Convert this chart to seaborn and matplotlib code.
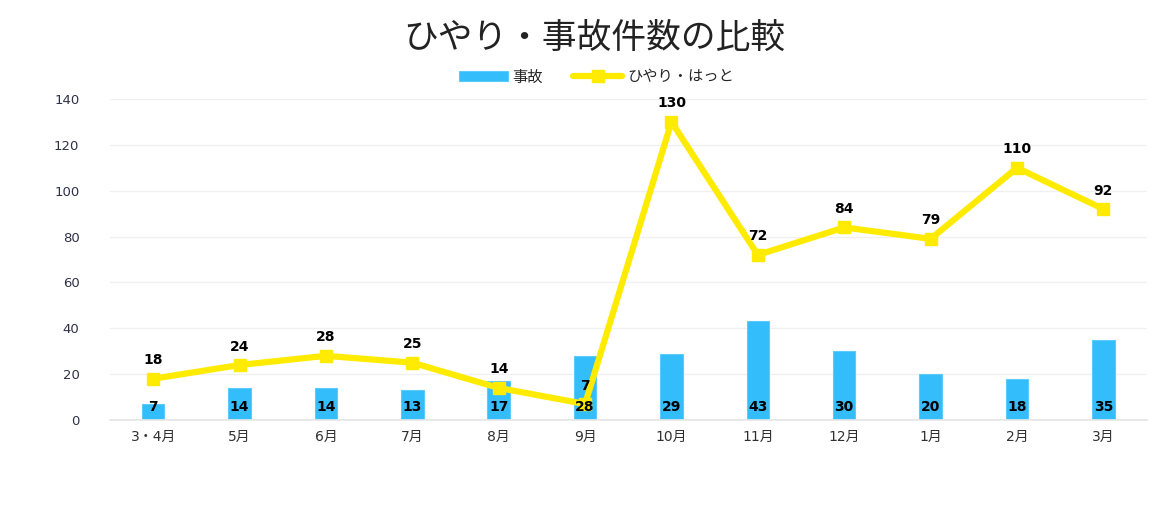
import matplotlib
matplotlib.use("Agg")
import matplotlib.pyplot as plt
import seaborn as sns
import pandas as pd
import numpy as np

months = ["3・4月", "5月", "6月", "7月", "8月", "9月", "10月", "11月", "12月", "1月", "2月", "3月"]
accidents = [7, 14, 14, 13, 17, 28, 29, 43, 30, 20, 18, 35]
hiyari = [18, 24, 28, 25, 14, 7, 130, 72, 84, 79, 110, 92]
yticks = [0, 20, 40, 60, 80, 100, 120, 140]

sns.set_theme(style="white")
plt.rcParams['font.family'] = ['DejaVu Sans', 'Noto Sans CJK JP']

bar_color = "#33BDFA"
line_color = "#FFEB00"

df = pd.DataFrame({"month": months, "accidents": accidents, "hiyari": hiyari})

fig = plt.figure(figsize=(11.76, 5.30), dpi=100)
ax = fig.add_axes([0.0935, 0.2075, 0.8815, 0.6057])

sns.barplot(data=df, x="month", y="accidents", color=bar_color, width=0.26,
            saturation=1, ax=ax, label="事故", edgecolor="#5CCBFF", linewidth=0.8)
xs = np.arange(len(months))
ax.plot(xs, hiyari, color=line_color, linewidth=4.5, marker="s", markersize=9,
        label="ひやり・はっと", zorder=4)
if ax.get_legend() is not None:
    ax.get_legend().remove()

for x, v in zip(xs, accidents):
    ax.text(x, 2.5, str(v), ha="center", va="bottom", fontsize=10, fontweight="bold",
            color="black", zorder=5)
for x, v in zip(xs, hiyari):
    ax.text(x, v + 5, str(v), ha="center", va="bottom", fontsize=10, fontweight="bold",
            color="black", zorder=5)

ax.set_ylim(0, 140)
ax.set_yticks(yticks)
ax.set_xlim(-0.5, len(months) - 0.5)
ax.grid(axis="y", color="#F0F0F0", linewidth=1)
ax.set_axisbelow(True)
for s in ["top", "right", "left"]:
    ax.spines[s].set_visible(False)
ax.spines["bottom"].set_color("#E6E6E6")
ax.tick_params(axis="y", labelsize=9.5, labelcolor="#303048", length=0, pad=22)
ax.tick_params(axis="x", labelsize=10, labelcolor="#303030", length=0, pad=7)
ax.set_xlabel("")
ax.set_ylabel("")

fig.text(0.505, 0.928, "ひやり・事故件数の比較", ha="center", va="center", fontsize=25,
         color="#222222", family=['Noto Sans CJK JP', 'DejaVu Sans'])
h, l = ax.get_legend_handles_labels()
order = [l.index("事故"), l.index("ひやり・はっと")]
fig.legend([h[i] for i in order], [l[i] for i in order], loc="center",
           bbox_to_anchor=(0.507, 0.855), ncol=2, frameon=False,
           prop={'family': ['Noto Sans CJK JP', 'DejaVu Sans'], 'size': 11},
           handlelength=3.2, handleheight=0.6, columnspacing=2.0, handletextpad=0.3)

fig.savefig("out.png", dpi=100)
